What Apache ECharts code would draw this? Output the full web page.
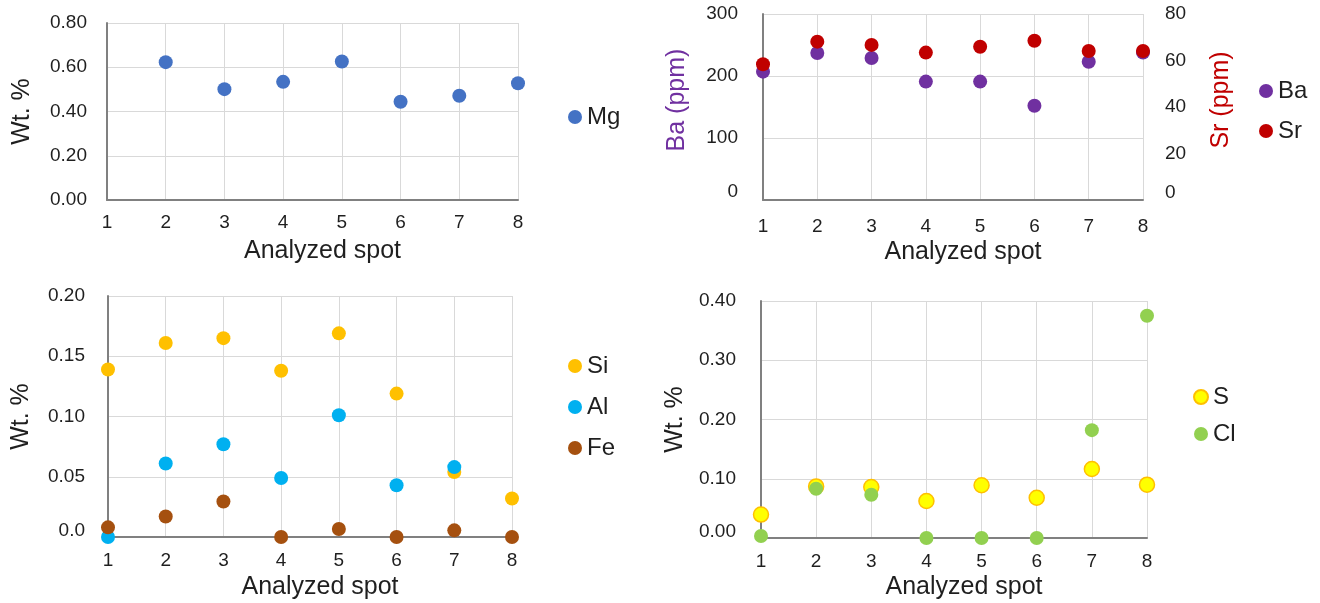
<!DOCTYPE html>
<html>
<head>
<meta charset="utf-8">
<script src="https://cdn.jsdelivr.net/npm/echarts@6/dist/echarts.min.js"></script>
<style>
html, body { margin: 0; padding: 0; background: #fff; }
#chart { width: 1320px; height: 603px; }
</style>
</head>
<body>
<div id="chart"></div>
<script>
// analyzed spots (x categories)
const spots = [1, 2, 3, 4, 5, 6, 7, 8];

// top-left: Mg wt.%
const mg = [null, 0.623, 0.501, 0.534, 0.626, 0.444, 0.471, 0.528];
// top-right: Ba / Sr ppm
const ba = [207, 237, 229, 191, 191, 152, 223, 238];
const sr = [58.4, 68.1, 66.7, 63.4, 65.9, 68.5, 64.1, 64.1];
// bottom-left: Si, Al, Fe wt.%
const si = [0.139, 0.161, 0.165, 0.138, 0.169, 0.119, 0.054, 0.032];
const al = [0.0, 0.061, 0.077, 0.049, 0.101, 0.043, 0.058, null];
const fe = [0.008, 0.017, 0.0295, 0, 0.0066, 0, 0.0055, 0];
// bottom-right: S, Cl wt.%
const sul = [0.0395, 0.087, 0.086, 0.0625, 0.089, 0.068, 0.1165, 0.090];
const cl = [0.0034, 0.083, 0.073, 0, 0, 0, 0.182, 0.375];

// tick labels
const mgTicks = ['0.00', '0.20', '0.40', '0.60', '0.80'];
const baTicks = ['0', '100', '200', '300'];
const srTicks = ['0', '20', '40', '60', '80'];
const siTicks = ['0.0', '0.05', '0.10', '0.15', '0.20'];
const sclTicks = ['0.00', '0.10', '0.20', '0.30', '0.40'];

const FONT = '"Liberation Sans", Arial, sans-serif';
const TXT = '#1f1f1f';

const pairs = vals => spots.map((x, i) => [x, vals[i]]).filter(p => p[1] !== null);

function xAx(gridIndex, margin, nameGap) {
    return {
        type: 'value', gridIndex: gridIndex, min: 1, max: 8, interval: 1,
        name: 'Analyzed spot', nameLocation: 'middle', nameGap: nameGap,
        nameTextStyle: { fontSize: 25, color: TXT, fontFamily: FONT, padding: [0, 0, 0, 20] },
        axisLine: { show: true, onZero: false, lineStyle: { color: '#808080', width: 2 } },
        axisTick: { show: false },
        axisLabel: { fontSize: 19, color: TXT, fontFamily: FONT, margin: margin,
            formatter: v => String(spots[v - 1]) },
        splitLine: { show: true, lineStyle: { color: '#d9d9d9', width: 1 } }
    };
}

// zeroLift: raise the bottom tick label a little, like the original
function yAx(gridIndex, max, interval, ticks, name, nameGap, nameColor, margin, zeroLift, extra) {
    return Object.assign({
        type: 'value', gridIndex: gridIndex, min: 0, max: max, interval: interval,
        name: name, nameLocation: 'middle', nameGap: nameGap, nameRotate: 90,
        nameTextStyle: { fontSize: 25, color: nameColor, fontFamily: FONT },
        axisLine: { show: true, lineStyle: { color: '#808080', width: 2 } },
        axisTick: { show: false },
        axisLabel: { fontSize: 19, color: TXT, fontFamily: FONT, margin: margin,
            formatter: (v, i) => i === 0 && zeroLift ? '{z|' + ticks[i] + '}' : ticks[i],
            rich: { z: { fontSize: 19, color: TXT, fontFamily: FONT, padding: [0, 0, zeroLift * 2, 0] } } },
        splitLine: { show: true, lineStyle: { color: '#d9d9d9', width: 1 } }
    }, extra || {});
}

function legend(names, left, top, gap) {
    return {
        data: names, orient: 'vertical', left: left, top: top, padding: 0,
        itemGap: gap, itemWidth: 14, itemHeight: 14, icon: 'circle',
        selectedMode: false,
        textStyle: { fontSize: 24, color: TXT, fontFamily: FONT }
    };
}

function dots(name, vals, xi, yi, color, size, extraStyle) {
    return {
        type: 'scatter', name: name, xAxisIndex: xi, yAxisIndex: yi,
        data: pairs(vals), symbolSize: size, clip: false, silent: true,
        itemStyle: Object.assign({ color: color, opacity: 1 }, extraStyle || {})
    };
}

const chart = echarts.init(document.getElementById('chart'));
chart.setOption({
    animation: false,
    grid: [
        { left: 107, top: 23, width: 411, height: 177 },
        { left: 763, top: 14, width: 380, height: 186 },
        { left: 108, top: 296, width: 404, height: 241 },
        { left: 761, top: 301, width: 386, height: 237 }
    ],
    xAxis: [
        xAx(0, 13, 39),
        xAx(1, 17, 40),
        xAx(2, 14, 38),
        xAx(3, 14, 37)
    ],
    yAxis: [
        yAx(0, 0.8, 0.2, mgTicks, 'Wt. %', 72, TXT, 20, 0),
        yAx(1, 300, 100, baTicks, 'Ba (ppm)', 73, '#7030A0', 25, 8,
            { nameTextStyle: { fontSize: 25, color: '#7030A0', fontFamily: FONT, padding: [0, 0, 0, 14] } }),
        yAx(1, 80, 20, srTicks, 'Sr (ppm)', 66, '#C00000', 22, 7,
            { position: 'right', axisLine: { show: false }, splitLine: { show: false },
              nameTextStyle: { fontSize: 25, color: '#C00000', fontFamily: FONT, padding: [0, 0, 0, 14] } }),
        yAx(2, 0.2, 0.05, siTicks, 'Wt. %', 74, TXT, 23, 6),
        yAx(3, 0.4, 0.1, sclTicks, 'Wt. %', 73, TXT, 25, 6)
    ],
    legend: [
        legend(['Mg'], 568, 105, 17),
        legend(['Ba', 'Sr'], 1259, 79, 16),
        legend(['Si', 'Al', 'Fe'], 568, 354, 17),
        legend(['S', 'Cl'], 1193, 385, 13)
    ],
    series: [
        dots('Mg', mg, 0, 0, '#4472C4', 14),
        dots('Ba', ba, 1, 1, '#7030A0', 14),
        dots('Sr', sr, 1, 2, '#C00000', 14),
        dots('Si', si, 2, 3, '#FFC000', 14),
        dots('Al', al, 2, 3, '#00B0F0', 14),
        dots('Fe', fe, 2, 3, '#A5500F', 14),
        dots('S', sul, 3, 4, '#FFFF00', 15, { borderColor: '#FFC000', borderWidth: 1.5 }),
        dots('Cl', cl, 3, 4, '#92D050', 14)
    ]
});
</script>
</body>
</html>
